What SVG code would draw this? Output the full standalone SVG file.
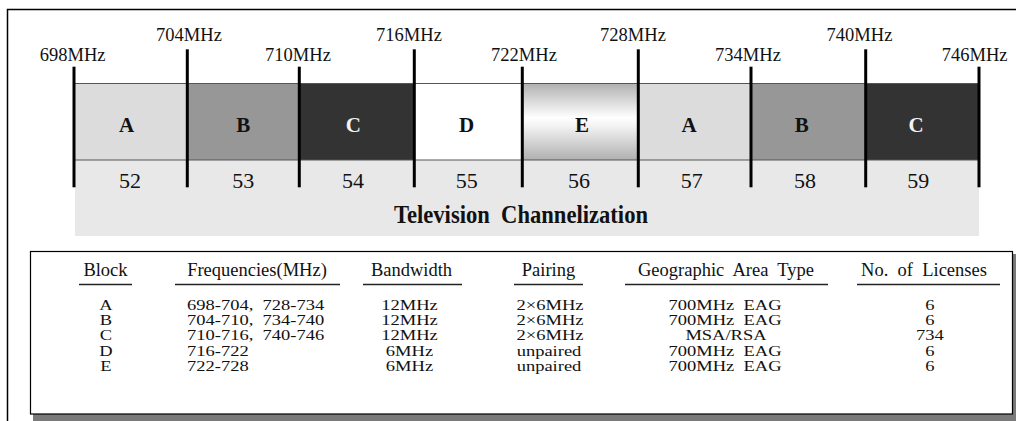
<svg xmlns="http://www.w3.org/2000/svg" width="1016" height="421" viewBox="0 0 1016 421">
<style>
text{font-family:"Liberation Serif","Times New Roman",serif;fill:#111;white-space:pre}
.mhz{font-size:18.5px;text-anchor:middle}
.blk{font-size:21px;font-weight:bold;text-anchor:middle}
.ch{font-size:22px;text-anchor:middle}
.hd{font-size:18.5px;text-anchor:middle}
.td{font-size:18.5px}
.c{text-anchor:middle}
.tick{stroke:#000;stroke-width:3}
.ul{stroke:#222;stroke-width:1.3}
</style>
<defs>
<linearGradient id="gE" x1="0" y1="0" x2="0" y2="1">
<stop offset="0" stop-color="#b0b0b0"/>
<stop offset="0.45" stop-color="#ffffff"/>
<stop offset="0.55" stop-color="#f4f4f4"/>
<stop offset="1" stop-color="#b0b0b0"/>
</linearGradient>
</defs>
<rect width="1016" height="421" fill="#fff"/>
<!-- outer frame -->
<path d="M7.5,421 V9.5 H1016" fill="none" stroke="#000" stroke-width="1.5"/>

<!-- band -->
<g id="band">
<rect x="75" y="160" width="904" height="76" fill="#e8e8e8"/>
<rect x="75" y="83" width="112" height="77" fill="#dcdcdc"/>
<rect x="187" y="83" width="112" height="77" fill="#979797"/>
<rect x="299" y="83" width="115" height="77" fill="#333333"/>
<rect x="414" y="83" width="108" height="77" fill="#ffffff"/>
<rect x="522" y="83" width="116" height="77" fill="url(#gE)"/>
<rect x="638" y="83" width="113" height="77" fill="#dcdcdc"/>
<rect x="751" y="83" width="115" height="77" fill="#979797"/>
<rect x="866" y="83" width="113" height="77" fill="#333333"/>
<line x1="75" y1="83.5" x2="979" y2="83.5" stroke="#555" stroke-width="1"/>
<line x1="75" y1="160" x2="979" y2="160" stroke="#555" stroke-width="1"/>
</g>

<g id="blocks">
<text class="blk" x="126.7" y="131.7">A</text>
<text class="blk" x="243.3" y="131.7">B</text>
<text class="blk" x="353.3" y="131.7" style="fill:#f2f2f2">C</text>
<text class="blk" x="466.7" y="131.7">D</text>
<text class="blk" x="582" y="131.7">E</text>
<text class="blk" x="689" y="131.7">A</text>
<text class="blk" x="801.7" y="131.7">B</text>
<text class="blk" x="916" y="131.7" style="fill:#f2f2f2">C</text>
</g>

<g id="channels">
<text class="ch" x="130" y="188">52</text>
<text class="ch" x="243.3" y="188">53</text>
<text class="ch" x="353" y="188">54</text>
<text class="ch" x="466.7" y="188">55</text>
<text class="ch" x="579" y="188">56</text>
<text class="ch" x="691.7" y="188">57</text>
<text class="ch" x="805" y="188">58</text>
<text class="ch" x="918.3" y="188">59</text>
<text x="521" y="223" style="font-size:25px;font-weight:bold;text-anchor:middle" textLength="254" lengthAdjust="spacingAndGlyphs">Television  Channelization</text>
</g>

<g id="ticks">
<line class="tick" x1="74" y1="66.7" x2="74" y2="187.3"/>
<line class="tick" x1="187.3" y1="49.3" x2="187.3" y2="187.3"/>
<line class="tick" x1="299.3" y1="66.7" x2="299.3" y2="187.3"/>
<line class="tick" x1="414.3" y1="49.3" x2="414.3" y2="187.3"/>
<line class="tick" x1="522.3" y1="66.7" x2="522.3" y2="187.3"/>
<line class="tick" x1="638.3" y1="49.3" x2="638.3" y2="187.3"/>
<line class="tick" x1="751" y1="66.7" x2="751" y2="187.3"/>
<line class="tick" x1="865.7" y1="49.3" x2="865.7" y2="187.3"/>
<line class="tick" x1="979" y1="66.7" x2="979" y2="187.3"/>
</g>

<g id="freq-labels">
<text class="mhz" x="72.7" y="61">698MHz</text>
<text class="mhz" x="189" y="40.7">704MHz</text>
<text class="mhz" x="298" y="61">710MHz</text>
<text class="mhz" x="409" y="40.7">716MHz</text>
<text class="mhz" x="524" y="61">722MHz</text>
<text class="mhz" x="633" y="40.7">728MHz</text>
<text class="mhz" x="748" y="61">734MHz</text>
<text class="mhz" x="859.5" y="40.7">740MHz</text>
<text class="mhz" x="974.7" y="61">746MHz</text>
</g>

<!-- table -->
<g id="table">
<rect x="33" y="254" width="983" height="167" fill="#7a7a7a"/>
<rect x="30.5" y="251.5" width="982" height="162.5" fill="#fff" stroke="#000" stroke-width="1.2"/>
<text class="hd" x="105.5" y="276">Block</text>
<text class="hd" x="257" y="276">Frequencies(MHz)</text>
<text class="hd" x="411.5" y="276">Bandwidth</text>
<text class="hd" x="548.5" y="276">Pairing</text>
<text class="hd" x="726" y="276">Geographic  Area  Type</text>
<text class="hd" x="924" y="276">No.  of  Licenses</text>
<line class="ul" x1="79" y1="284.5" x2="132" y2="284.5"/>
<line class="ul" x1="175" y1="284.5" x2="340" y2="284.5"/>
<line class="ul" x1="363" y1="284.5" x2="462" y2="284.5"/>
<line class="ul" x1="514" y1="284.5" x2="583" y2="284.5"/>
<line class="ul" x1="625" y1="284.5" x2="828" y2="284.5"/>
<line class="ul" x1="857" y1="284.5" x2="1000" y2="284.5"/>

<g transform="translate(0,309.8) scale(1,0.8)">
<text class="td c" x="106" y="0">A</text>
<text class="td" x="187" y="0">698-704,  728-734</text>
<text class="td c" x="409.5" y="0">12MHz</text>
<text class="td c" x="550" y="0">2×6MHz</text>
<text class="td c" x="725" y="0">700MHz  EAG</text>
<text class="td c" x="930" y="0">6</text>
</g>
<g transform="translate(0,325.1) scale(1,0.8)">
<text class="td c" x="106" y="0">B</text>
<text class="td" x="187" y="0">704-710,  734-740</text>
<text class="td c" x="409.5" y="0">12MHz</text>
<text class="td c" x="550" y="0">2×6MHz</text>
<text class="td c" x="725" y="0">700MHz  EAG</text>
<text class="td c" x="930" y="0">6</text>
</g>
<g transform="translate(0,340.4) scale(1,0.8)">
<text class="td c" x="106" y="0">C</text>
<text class="td" x="187" y="0">710-716,  740-746</text>
<text class="td c" x="409.5" y="0">12MHz</text>
<text class="td c" x="550" y="0">2×6MHz</text>
<text class="td c" x="726" y="0">MSA/RSA</text>
<text class="td c" x="930" y="0">734</text>
</g>
<g transform="translate(0,355.7) scale(1,0.8)">
<text class="td c" x="106" y="0">D</text>
<text class="td" x="187" y="0">716-722</text>
<text class="td c" x="409.5" y="0">6MHz</text>
<text class="td c" x="549" y="0">unpaired</text>
<text class="td c" x="725" y="0">700MHz  EAG</text>
<text class="td c" x="930" y="0">6</text>
</g>
<g transform="translate(0,371) scale(1,0.8)">
<text class="td c" x="106" y="0">E</text>
<text class="td" x="187" y="0">722-728</text>
<text class="td c" x="409.5" y="0">6MHz</text>
<text class="td c" x="549" y="0">unpaired</text>
<text class="td c" x="725" y="0">700MHz  EAG</text>
<text class="td c" x="930" y="0">6</text>
</g>
</g>
</svg>
